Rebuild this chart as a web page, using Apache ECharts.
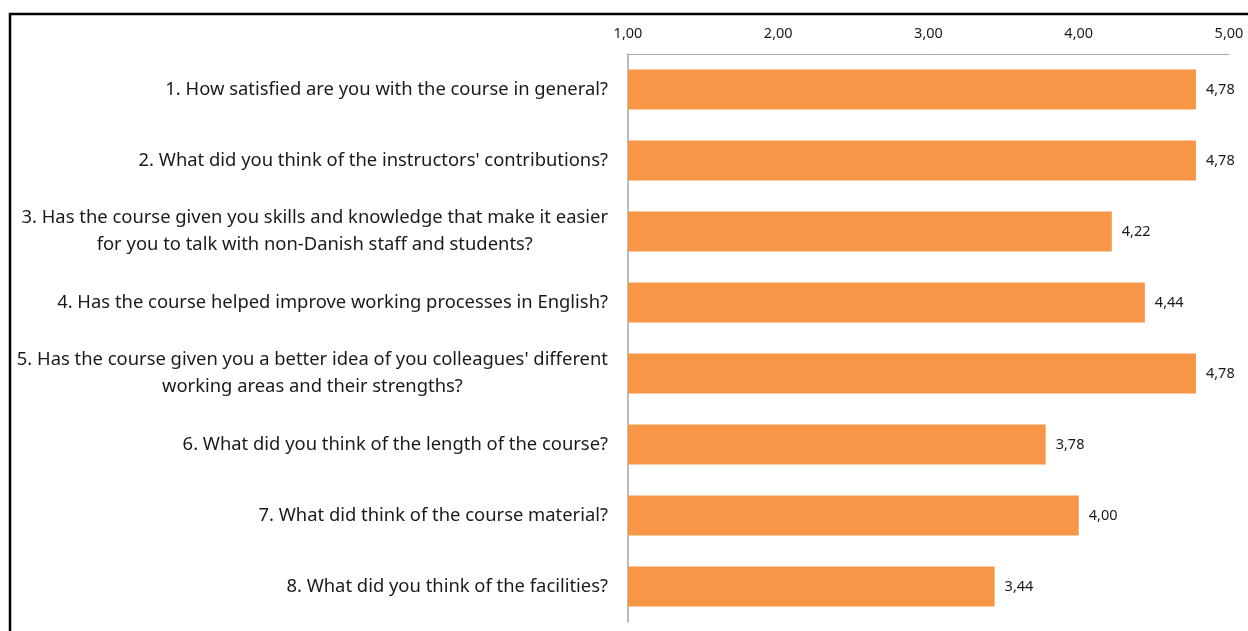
<!DOCTYPE html>
<html>
<head>
<meta charset="utf-8">
<script src="https://cdn.jsdelivr.net/npm/echarts@6/dist/echarts.min.js"></script>
<style>
html,body{margin:0;padding:0;background:#fff;}
#chart{width:1248px;height:631px;}
</style>
</head>
<body>
<div id="chart"></div>
<script>
const categories = [
  "1. How satisfied are you with the course in general?",
  "2. What did you think of the instructors' contributions?",
  "3. Has the course given you skills and knowledge that make it easier\nfor you to talk with non-Danish staff and students?",
  "4. Has the course helped improve working processes in English?",
  "5. Has the course given you a better idea of you colleagues' different\nworking areas and their strengths?",
  "6. What did you think of the length of the course?",
  "7. What did think of the course material?",
  "8. What did you think of the facilities?"
];
const values = [4.78, 4.78, 4.22, 4.44, 4.78, 3.78, 4.00, 3.44];
const axisMin = 1, axisMax = 5, axisStep = 1;

const fmt = v => Number(v).toFixed(2).replace('.', ',');
const FONT = '"Noto Sans", sans-serif';
const TXT = '#1a1a1a';

const chart = echarts.init(document.getElementById('chart'), null, {renderer: 'canvas'});
chart.setOption({
  animation: false,
  backgroundColor: '#fff',
  grid: {left: 628, right: 19, top: 54, bottom: 9, containLabel: false},
  xAxis: {
    type: 'value', position: 'top', min: axisMin, max: axisMax, interval: axisStep,
    axisLine: {show: true, lineStyle: {color: '#a6a6a6', width: 1}},
    axisTick: {show: false},
    splitLine: {show: false},
    axisLabel: {formatter: fmt, fontFamily: FONT, fontSize: 14.5, color: TXT, margin: 13}
  },
  yAxis: {
    type: 'category', data: categories, inverse: true,
    axisLine: {show: true, lineStyle: {color: '#a6a6a6', width: 1.5}},
    axisTick: {show: false},
    axisLabel: {
      margin: 20, fontFamily: FONT, fontSize: 18.4, color: TXT, lineHeight: 27,
      formatter: v => v.split('\n').map(s => '{a|' + s + '}').join('\n'),
      rich: {a: {align: 'center', fontFamily: FONT, fontSize: 18.4, color: TXT, lineHeight: 27}}
    }
  },
  series: [{
    type: 'bar', data: values, barWidth: 40,
    itemStyle: {color: '#F79646'},
    label: {show: true, position: 'right', distance: 10, formatter: p => fmt(p.value),
      fontFamily: FONT, fontSize: 14.5, color: TXT}
  }],
  graphic: [{
    type: 'polyline', silent: true,
    shape: {points: [[10, 631], [10, 14], [1248, 14]]},
    style: {stroke: '#000', lineWidth: 2.5, fill: null}
  }]
});
</script>
</body>
</html>
